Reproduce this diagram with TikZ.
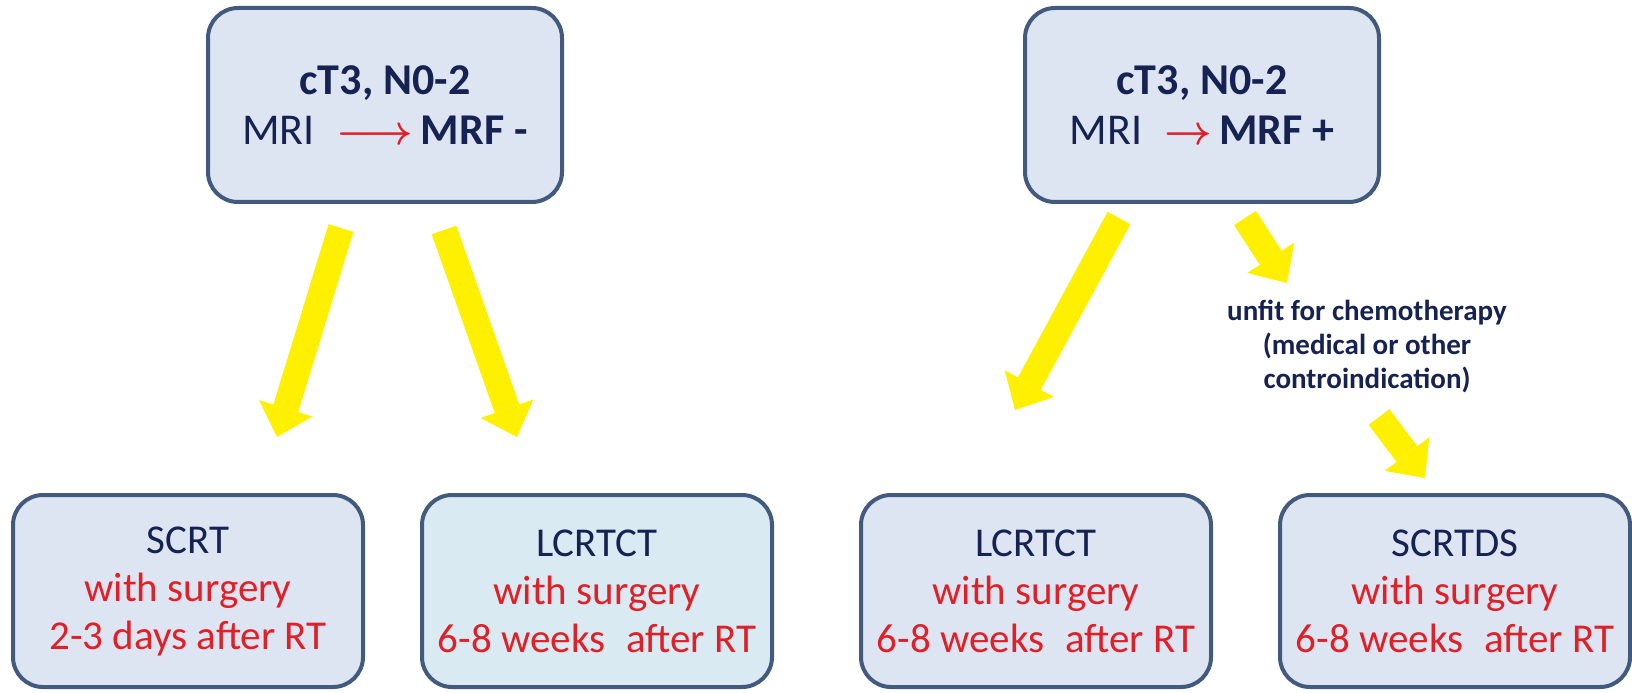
\documentclass[tikz,border=0pt]{standalone}
\usepackage{fontspec}
\setmainfont{Carlito}
\usepackage{tikz}
\usetikzlibrary{arrows.meta, positioning, calc}
\usepackage{xcolor}
\definecolor{boxblue}{RGB}{222,229,242}
\definecolor{boxcyan}{RGB}{217,234,242}
\definecolor{boxedge}{RGB}{66,90,126}
\definecolor{navytext}{RGB}{22,34,82}
\definecolor{arrred}{RGB}{226,30,38}
\definecolor{arryellow}{RGB}{255,240,0}
\tikzstyle{stage} = [rectangle, draw=boxedge, line width=2pt, fill=boxblue, rounded corners=15pt, minimum width=177pt, minimum height=97pt, align=center, text=navytext, font=\fontsize{22}{25}\selectfont]
\tikzstyle{yarrow} = [-{Triangle[width=28pt, length=15pt, line width=0pt]}, line width=13pt, draw=arryellow]

\begin{document}
\begin{tikzpicture}[x=0.5pt, y=0.5pt,
  therapy/.style={stage, minimum width=175pt, minimum height=96pt, font=\fontsize{20.5}{24}\selectfont},
  note/.style={align=center, text=navytext, font=\fontsize{14.5}{17}\selectfont\bfseries}]

  \fill[white] (0,0) rectangle (1632,692);
  \useasboundingbox (0,0) rectangle (1632,692);

  \node[stage] (mrfneg) at (385, 587) {\textbf{cT3, N0-2}\\MRI\enspace\textcolor{arrred}{\boldmath$\longrightarrow$}\,\textbf{MRF -}};
  \node[stage] (mrfpos) at (1202, 587) {\textbf{cT3, N0-2}\\MRI\enspace\textcolor{arrred}{\boldmath$\rightarrow$}\,\textbf{MRF +}};

  \node[therapy] (scrt) at (188, 101) {SCRT\\\textcolor{arrred}{with surgery}\\\textcolor{arrred}{2-3 days after RT}};
  \node[therapy, fill=boxcyan] (lcrtct_a) at (597, 101) {LCRTCT\\\textcolor{arrred}{with surgery}\\\textcolor{arrred}{6-8 weeks\;\ after RT}};
  \node[therapy] (lcrtct_b) at (1036, 101) {LCRTCT\\\textcolor{arrred}{with surgery}\\\textcolor{arrred}{6-8 weeks\;\ after RT}};
  \node[therapy] (scrtds) at (1455, 101) {SCRTDS\\\textcolor{arrred}{with surgery}\\\textcolor{arrred}{6-8 weeks\;\ after RT}};

  \node[note] (unfit) at (1367, 346) {unfit for chemotherapy\\(medical or other\\controindication)};

  % arrow ends
  \coordinate (a1s) at (341, 464);
  \coordinate (a1e) at (277, 255);
  \coordinate (a2s) at (444, 462);
  \coordinate (a2e) at (517, 255);
  \coordinate (a3s) at (1119, 474);
  \coordinate (a3e) at (1015, 282);
  \coordinate (a4s) at (1245, 474);
  \coordinate (a4e) at (1287, 409);
  \coordinate (a5s) at (1379, 275);
  \coordinate (a5e) at (1425, 214);

  \draw[yarrow] (a1s) -- (a1e);
  \draw[yarrow] (a2s) -- (a2e);
  \draw[yarrow] (a3s) -- (a3e);
  \draw[yarrow] (a4s) -- (a4e);
  \draw[yarrow] (a5s) -- (a5e);
\end{tikzpicture}
\end{document}
